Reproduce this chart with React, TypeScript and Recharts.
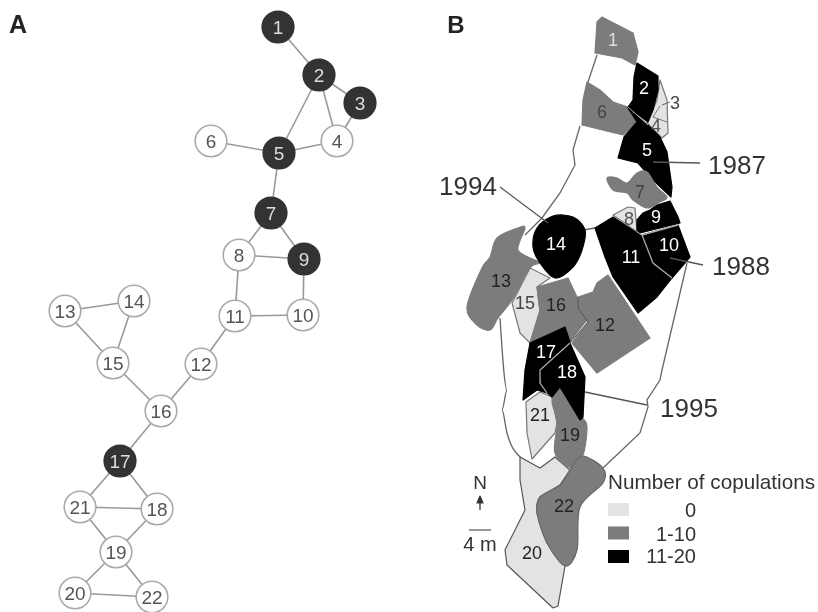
import React from 'react';
import { ScatterChart, Scatter, XAxis, YAxis } from 'recharts';

type P = [number, number];
const LIGHT = '#e3e3e3';
const MID = '#7c7c7c';
const DARK = '#000000';

// Panel A network
const nodeIds = ['1','2','3','4','5','6','7','8','9','10','11','12','13','14','15','16','17','18','19','20','21','22'];
const nodeX = [278,319,360,337,279,211,271,239,304,303,235,201,65,134,113,161,120,157,116,75,80,152];
const nodeY = [27,75,103,141,153,141,213,255,259,315,316,364,311,301,363,411,461,509,552,593,507,597];
const activeNodes = ['1','2','3','5','7','9','17'];
const edges: [string,string][] = [
  ['1','2'],['2','3'],['2','4'],['2','5'],['3','4'],['4','5'],['5','6'],['5','7'],['7','8'],['7','9'],['8','9'],
  ['8','11'],['9','10'],['10','11'],['11','12'],['12','16'],['13','14'],['13','15'],['14','15'],['15','16'],
  ['16','17'],['17','18'],['17','21'],['18','21'],['18','19'],['19','21'],['19','20'],['19','22'],['20','22'],
];

// Panel B territories
const t1: P[] = [[597,22],[602,17],[633,33],[638,52],[635,65],[622,58],[595,53],[596,38]];
const t2: P[] = [[637,63],[658,76],[658,90],[653,110],[648,122],[628,107],[633,100],[634,77]];
const t34: P[] = [[660,80],[667,100],[668,133],[662,138],[647,123],[657,100]];
const t5: P[] = [[628,108],[648,125],[660,137],[667,152],[672,187],[671,197],[653,180],[638,163],[618,158],[624,137],[637,122]];
const t6: P[] = [[587,82],[600,90],[613,102],[628,107],[637,122],[623,135],[582,125],[583,100]];
const t7: P[] = [[607,178],[617,178],[627,183],[637,173],[647,172],[657,187],[667,197],[660,202],[647,208],[633,200],[627,193],[613,190]];
const t8: P[] = [[613,215],[628,207],[635,208],[637,232],[623,222]];
const t9: P[] = [[643,213],[650,210],[657,205],[670,201],[678,217],[680,223],[640,233],[637,230],[637,220]];
const t10: P[] = [[642,235],[678,225],[690,257],[672,278],[653,263]];
const t11: P[] = [[595,228],[613,217],[637,233],[643,237],[653,263],[672,278],[657,297],[638,313],[613,277],[605,257]];
const t12: P[] = [[578,297],[593,292],[597,283],[608,275],[650,338],[597,373],[572,343],[588,322],[578,308]];
const t13: P[] = [[518,228],[525,228],[518,250],[535,260],[540,263],[530,268],[512,300],[498,318],[490,330],[477,325],[467,307],[482,268],[490,257],[497,238]];
const t14: P[] = [[555,278],[540,263],[533,247],[537,228],[553,216],[573,217],[585,230],[582,250],[573,267]];
const t15: P[] = [[530,268],[550,278],[537,287],[540,310],[530,343],[520,333],[512,303]];
const t16: P[] = [[537,287],[568,278],[577,297],[578,308],[587,320],[570,342],[565,327],[530,343],[540,313]];
const t17: P[] = [[530,343],[565,327],[570,342],[540,370],[540,383],[547,393],[537,390],[523,400],[525,370]];
const t18: P[] = [[570,343],[585,377],[583,417],[580,420],[560,387],[552,397],[542,388],[540,370]];
const t19: P[] = [[560,387],[552,400],[557,423],[555,453],[572,468],[583,455],[587,427],[582,417]];
const t20: P[] = [[520,457],[540,468],[555,457],[570,470],[560,485],[540,497],[537,513],[547,543],[565,566],[558,606],[553,608],[507,565],[505,550],[525,510],[520,480]];
const t21: P[] = [[526,402],[540,392],[552,397],[557,423],[555,433],[532,459],[527,433]];
const t22: P[] = [[582,456],[603,468],[603,483],[580,507],[577,550],[565,566],[547,543],[537,513],[540,497],[560,485],[570,470]];
const arrowHead: P[] = [[480,496],[477,503],[483,503]];

const territories: { pts: P[]; fill: string; stroke: string; smooth?: boolean }[] = [
  { pts: t20, fill: LIGHT, stroke: '#555' },
  { pts: t21, fill: LIGHT, stroke: '#777' },
  { pts: t34, fill: LIGHT, stroke: '#777' },
  { pts: t8, fill: LIGHT, stroke: '#777' },
  { pts: t15, fill: LIGHT, stroke: '#777' },
  { pts: t1, fill: MID, stroke: MID },
  { pts: t6, fill: MID, stroke: MID },
  { pts: t12, fill: MID, stroke: MID },
  { pts: t13, fill: MID, stroke: MID, smooth: true },
  { pts: t16, fill: MID, stroke: MID },
  { pts: t19, fill: MID, stroke: MID, smooth: true },
  { pts: t22, fill: MID, stroke: '#666', smooth: true },
  { pts: t2, fill: DARK, stroke: DARK },
  { pts: t5, fill: DARK, stroke: DARK },
  { pts: t9, fill: DARK, stroke: DARK },
  { pts: t10, fill: DARK, stroke: DARK },
  { pts: t11, fill: DARK, stroke: DARK },
  { pts: t14, fill: DARK, stroke: DARK, smooth: true },
  { pts: t17, fill: DARK, stroke: DARK },
  { pts: t18, fill: DARK, stroke: DARK },
  { pts: t7, fill: MID, stroke: MID, smooth: true },
  { pts: arrowHead, fill: '#333', stroke: '#333' },
];

// Outlines and leaders
const outlineLeft: P[] = [[597,55],[588,82]];
const outlineLeft2: P[] = [[580,126],[573,150],[575,165],[560,193],[542,218],[525,235]];
const outlineLink: P[] = [[583,230],[595,228]];
const outlineRight: P[] = [[687,263],[662,370],[660,380],[647,400],[648,407],[640,433],[603,468]];
const outlineLower: P[] = [[500,318],[507,390],[502,410],[507,433],[520,457],[540,468],[555,457]];
const leader3: P[] = [[662,105],[670,102]];
const divide34: P[] = [[660,106],[653,117],[667,122]];
const leader1987: P[] = [[653,162],[700,163]];
const leader1994: P[] = [[500,187],[548,223]];
const leader1988: P[] = [[670,258],[703,265]];
const leader1995: P[] = [[585,392],[647,405]];
const sep910: P[] = [[642,235],[678,225]];
const sep1011: P[] = [[642,235],[653,263],[672,278]];
const sep1718: P[] = [[570,343],[540,370],[540,383],[547,393]];
const sep25: P[] = [[628,107],[648,125]];
const sep1216: P[] = [[578,297],[578,308],[588,322],[570,343]];
const northArrow: P[] = [[480,510],[480,500]];
const scaleBar: P[] = [[469,530],[491,530]];

const outlines: { pts: P[]; stroke: string; width: number; curved?: boolean }[] = [
  { pts: outlineLeft, stroke: '#666', width: 1.3 },
  { pts: outlineLeft2, stroke: '#666', width: 1.3 },
  { pts: outlineLink, stroke: '#666', width: 1.3 },
  { pts: outlineRight, stroke: '#666', width: 1.3 },
  { pts: outlineLower, stroke: '#666', width: 1.3, curved: true },
  { pts: leader3, stroke: '#666', width: 1 },
  { pts: divide34, stroke: '#777', width: 1 },
  { pts: leader1987, stroke: '#555', width: 1.3 },
  { pts: leader1994, stroke: '#555', width: 1.3 },
  { pts: leader1988, stroke: '#555', width: 1.3 },
  { pts: leader1995, stroke: '#555', width: 1.3 },
  { pts: sep910, stroke: '#aaa', width: 1.3 },
  { pts: sep1011, stroke: '#aaa', width: 1.3 },
  { pts: sep1718, stroke: '#aaa', width: 1.3 },
  { pts: sep25, stroke: '#aaa', width: 1 },
  { pts: sep1216, stroke: '#555', width: 1 },
  { pts: northArrow, stroke: '#333', width: 1.3 },
  { pts: scaleBar, stroke: '#555', width: 1.2 },
];

// Panel B territory labels: [x, y, text, colour]
const mapLabels: [number, number, string, string][] = [
  [613,40,'1','#ddd'],[644,88,'2','#fff'],[675,103,'3','#444'],[656,126,'4','#555'],[647,150,'5','#fff'],
  [602,112,'6','#444'],[640,192,'7','#444'],[629,219,'8','#555'],[656,217,'9','#fff'],[669,245,'10','#fff'],
  [631,257,'11','#fff'],[605,325,'12','#222'],[501,281,'13','#222'],[556,244,'14','#fff'],[525,303,'15','#444'],
  [556,305,'16','#222'],[546,352,'17','#fff'],[567,372,'18','#fff'],[570,435,'19','#222'],[532,553,'20','#222'],
  [540,415,'21','#222'],[564,506,'22','#222'],
];

// Free text: [x, y, text, size, anchor, weight]
const freeText: [number, number, string, number, string, string][] = [
  [18,24,'A',25,'middle','bold'],[456,24,'B',24,'middle','bold'],
  [737,165,'1987',26,'middle','normal'],[468,186,'1994',26,'middle','normal'],
  [741,266,'1988',26,'middle','normal'],[689,408,'1995',26,'middle','normal'],
  [480,482,'N',19,'middle','normal'],[480,544,'4 m',20,'middle','normal'],
  [608,482,'Number of copulations',20.7,'start','normal'],
  [696,510,'0',20,'end','normal'],[696,534,'1-10',20,'end','normal'],[696,556,'11-20',20,'end','normal'],
];

// Legend
const legendFills = [LIGHT, MID, DARK];
const legendY = [509.5, 533, 556.5];

const FONT = '"Liberation Sans", Arial, sans-serif';
const toPts = (pts: P[]) => pts.map(([x, y]) => ({ x, y }));
const noMark = () => <g />;

const closedPath = (pts: { x: number; y: number }[], smooth?: boolean) => {
  if (!smooth) return pts.map((p, i) => `${i ? 'L' : 'M'}${p.x},${p.y}`).join('') + 'Z';
  const n = pts.length;
  const k = 0.16;
  let d = `M${pts[0].x},${pts[0].y}`;
  for (let i = 0; i < n; i++) {
    const p0 = pts[(i - 1 + n) % n];
    const p1 = pts[i];
    const p2 = pts[(i + 1) % n];
    const p3 = pts[(i + 2) % n];
    d += `C${p1.x + (p2.x - p0.x) * k},${p1.y + (p2.y - p0.y) * k} ${p2.x - (p3.x - p1.x) * k},${p2.y - (p3.y - p1.y) * k} ${p2.x},${p2.y}`;
  }
  return d + 'Z';
};

const polyLine = (fill: string, stroke: string, smooth?: boolean) => (props: any) => (
  <path d={closedPath(props.points, smooth)} fill={fill} stroke={stroke} strokeWidth={1.2} strokeLinejoin="round" />
);

const nodeData = nodeIds.map((id, i) => ({ x: nodeX[i], y: nodeY[i], id, active: activeNodes.includes(id) }));
const nodeOf = (id: string) => nodeData.find((n) => n.id === id)!;

const NodeShape = (props: any) => {
  const { cx, cy, payload } = props;
  const a = payload.active;
  return (
    <g>
      <circle cx={cx} cy={cy} r={15.8} fill={a ? '#333' : '#fff'} stroke={a ? '#333' : '#aaa'} strokeWidth={1.6} />
      <text x={cx} y={cy} dy="0.36em" textAnchor="middle" fontFamily={FONT} fontSize={19} fill={a ? '#ddd' : '#555'}>{payload.id}</text>
    </g>
  );
};

const TextShape = (props: any) => {
  const { cx, cy, payload } = props;
  return (
    <text x={cx} y={cy} dy="0.36em" textAnchor={payload.anchor} fontFamily={FONT} fontSize={payload.size} fontWeight={payload.weight} fill={payload.color}>{payload.label}</text>
  );
};

const SwatchShape = (props: any) => {
  const { cx, cy, payload } = props;
  return <rect x={cx} y={cy - 6.5} width={21} height={13} fill={payload.fill} />;
};

const mapLabelData = mapLabels.map(([x, y, label, color]) => ({ x, y, label, color, size: 18, anchor: 'middle', weight: 'normal' }));
const freeTextData = freeText.map(([x, y, label, size, anchor, weight]) => ({ x, y, label, size, anchor, weight, color: weight === 'bold' ? '#222' : '#333' }));
const swatchData = legendFills.map((fill, i) => ({ x: 608, y: legendY[i], fill }));

export default function App() {
  return (
    <div style={{ position: 'absolute', left: 0, top: 0, width: 818, height: 612, background: '#fff', filter: 'blur(0.6px)' }}>
      <ScatterChart width={818} height={612} margin={{ top: 0, right: 0, bottom: 0, left: 0 }}>
        <XAxis type="number" dataKey="x" domain={[0, 818]} hide />
        <YAxis type="number" dataKey="y" domain={[0, 612]} reversed hide />
        {edges.map(([a, b]) => (
          <Scatter key={`${a}-${b}`} data={[nodeOf(a), nodeOf(b)]} shape={noMark} line={{ stroke: '#999', strokeWidth: 1.6 }} isAnimationActive={false} />
        ))}
        <Scatter data={nodeData} shape={NodeShape} isAnimationActive={false} />
        {outlines.slice(0, 5).map((o, i) => (
          <Scatter key={`o${i}`} data={toPts(o.pts)} shape={noMark} lineJointType={o.curved ? 'monotoneX' : 'linear'} line={{ stroke: o.stroke, strokeWidth: o.width }} isAnimationActive={false} />
        ))}
        {territories.map((t, i) => (
          <Scatter key={`t${i}`} data={toPts(t.pts)} shape={noMark} line={polyLine(t.fill, t.stroke, t.smooth)} isAnimationActive={false} />
        ))}
        {outlines.slice(5).map((o, i) => (
          <Scatter key={`l${i}`} data={toPts(o.pts)} shape={noMark} line={{ stroke: o.stroke, strokeWidth: o.width }} isAnimationActive={false} />
        ))}
        <Scatter data={swatchData} shape={SwatchShape} isAnimationActive={false} />
        <Scatter data={mapLabelData} shape={TextShape} isAnimationActive={false} />
        <Scatter data={freeTextData} shape={TextShape} isAnimationActive={false} />
      </ScatterChart>
    </div>
  );
}
